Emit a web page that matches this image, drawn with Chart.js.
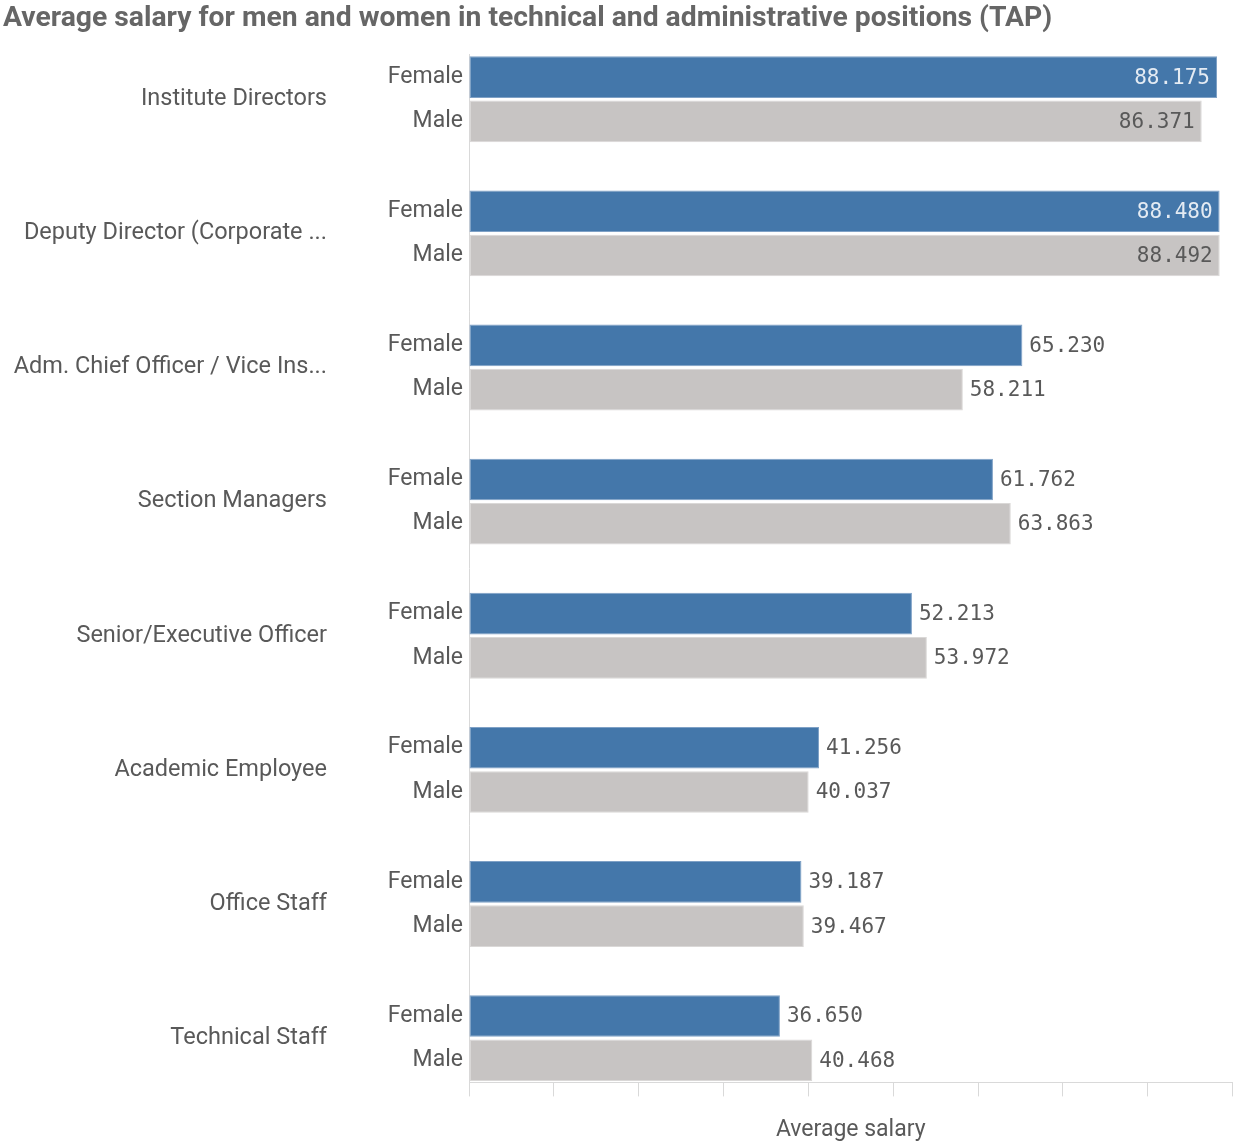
<!DOCTYPE html>
<html>
<head>
<meta charset="utf-8">
<title>Average salary TAP</title>
<script src="https://cdn.jsdelivr.net/npm/chart.js@4/dist/chart.umd.min.js"></script>
<style>
  html, body { margin: 0; padding: 0; background: #fff; }
  #wrap { width: 1236px; height: 1144px; }
</style>
</head>
<body>
<div id="wrap"><canvas id="salaryChart" width="1236" height="1144"></canvas></div>
<script>
// average salary per position, female vs male
const positions = [
    'Institute Directors',
    'Deputy Director (Corporate ...',
    'Adm. Chief Officer / Vice Ins...',
    'Section Managers',
    'Senior/Executive Officer',
    'Academic Employee',
    'Office Staff',
    'Technical Staff',
];
const femaleSalary = [88175, 88480, 65230, 61762, 52213, 41256, 39187, 36650];
const maleSalary = [86371, 88492, 58211, 63863, 53972, 40037, 39467, 40468];
const axisMax = 90000;
const axisStep = 10000;

const textGrey = '#595959';
const labelFont = 'Roboto, "Noto Sans", sans-serif';
const valueFont = '"DejaVu Sans Mono", monospace';

// 88175 -> "88.175"
function fmt(v) {
    const th = Math.floor(v / 1000);
    const rest = String(v % 1000).padStart(3, '0');
    return th + '.' + rest;
}

// empty space above the first and below the last group, in category units
const BAND_PAD = 0.17;

// Female / Male labels next to every bar + value labels
const barLabels = {
    id: 'barLabels',
    afterDatasetsDraw(chart) {
        const ctx = chart.ctx;
        const area = chart.chartArea;
        ctx.save();
        ctx.textBaseline = 'middle';
        chart.data.datasets.forEach((ds, di) => {
            const meta = chart.getDatasetMeta(di);
            meta.data.forEach((bar, i) => {
                // series name on the left of the bar
                ctx.font = '23px ' + labelFont;
                ctx.fillStyle = textGrey;
                ctx.textAlign = 'right';
                ctx.fillText(ds.label, area.left - 6, bar.y);

                // value
                const txt = fmt(ds.data[i]);
                ctx.font = '21px ' + valueFont;
                const w = ctx.measureText(txt).width;
                if (bar.x + 7 + w > area.right) {
                    ctx.textAlign = 'right';
                    ctx.fillStyle = di === 0 ? '#e4ebf3' : textGrey;
                    ctx.fillText(txt, bar.x - 7, bar.y + 1);
                } else {
                    ctx.textAlign = 'left';
                    ctx.fillStyle = textGrey;
                    ctx.fillText(txt, bar.x + 7, bar.y + 1);
                }
            });
        });
        ctx.restore();
    },
};

const ctx = document.getElementById('salaryChart').getContext('2d');

new Chart(ctx, {
    type: 'bar',
    data: {
        labels: positions,
        datasets: [
            {
                label: 'Female',
                data: femaleSalary,
                backgroundColor: '#4477aa',
                borderColor: '#7fa1c6',
                borderWidth: 1,
                borderSkipped: false,
            },
            {
                label: 'Male',
                data: maleSalary,
                backgroundColor: '#c7c4c3',
                borderColor: '#dad8d7',
                borderWidth: 1,
                borderSkipped: false,
            },
        ],
    },
    options: {
        indexAxis: 'y',
        responsive: false,
        animation: false,
        categoryPercentage: 0.66,
        barPercentage: 0.94,
        layout: { padding: { left: 3, right: 3.5, top: 0, bottom: 0 } },
        plugins: {
            legend: { display: false },
            tooltip: { enabled: false },
            title: {
                display: true,
                text: 'Average salary for men and women in technical and administrative positions (TAP)',
                align: 'start',
                color: '#666666',
                font: { family: labelFont, size: 28.3, weight: 'bold', lineHeight: 1.2 },
                padding: { top: 2, bottom: 19 },
            },
        },
        scales: {
            x: {
                min: 0,
                max: axisMax,
                ticks: { display: false, stepSize: axisStep },
                grid: {
                    drawOnChartArea: false,
                    drawTicks: true,
                    tickLength: 14,
                    color: '#d9d9d9',
                },
                border: { display: true, color: '#d9d9d9' },
                title: {
                    display: true,
                    text: 'Average salary',
                    color: textGrey,
                    font: { family: labelFont, size: 23 },
                    padding: { top: 20, bottom: 0 },
                },
            },
            y: {
                // invisible tick marks push the category names away from the axis
                grid: {
                    drawOnChartArea: false,
                    drawTicks: true,
                    tickLength: 142,
                    color: 'rgba(0,0,0,0)',
                },
                border: { display: true, color: '#d9d9d9' },
                ticks: {
                    color: textGrey,
                    font: { family: labelFont, size: 23.5 },
                    padding: 0,
                    autoSkip: false,
                },
                afterFit(scale) {
                    scale.width = 466;
                },
                afterBuildTicks(scale) {
                    // trim the outer half-band padding so bars touch the axis
                    scale._startValue = -0.5 + BAND_PAD;
                    scale._valueRange = positions.length - 2 * BAND_PAD;
                },
            },
        },
    },
    plugins: [barLabels],
});
</script>
</body>
</html>
